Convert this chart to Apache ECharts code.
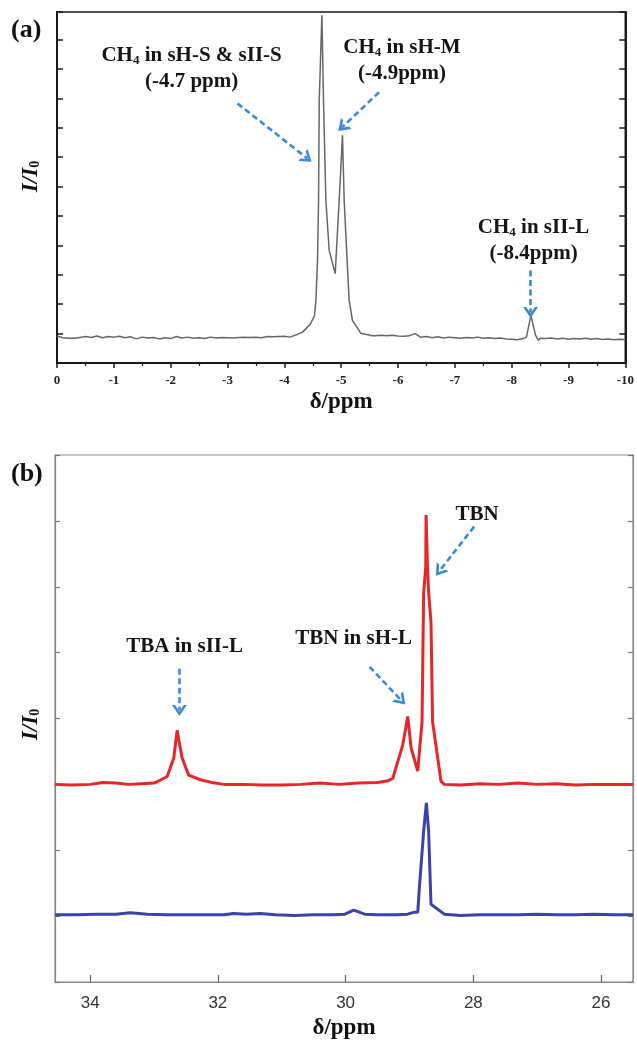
<!DOCTYPE html>
<html>
<head>
<meta charset="utf-8">
<script src="https://cdn.jsdelivr.net/npm/echarts@6/dist/echarts.min.js"></script>
<style>
  html, body { margin: 0; padding: 0; background: #ffffff; }
  #chart { width: 637px; height: 1045px; }
</style>
</head>
<body>
<div id="chart"></div>
<script>
// (a) CH4 region: chemical shift (ppm) and relative intensity I/I0
const shiftA = [
  0, -0.1, -0.2, -0.3, -0.4, -0.5, -0.6, -0.7, -0.8, -0.9,
  -1.0, -1.1, -1.2, -1.3, -1.4, -1.5, -1.6, -1.7, -1.8, -1.9,
  -2.0, -2.1, -2.2, -2.3, -2.4, -2.5, -2.6, -2.7, -2.8, -2.9,
  -3.0, -3.1, -3.2, -3.3, -3.4, -3.5, -3.6, -3.7, -3.8, -3.9,
  -4.0, -4.1, -4.2, -4.32, -4.45, -4.53, -4.556, -4.584, -4.602, -4.614,
  -4.661, -4.689, -4.731, -4.789, -4.895, -4.965, -5.023, -5.053, -5.14, -5.198,
  -5.346, -5.45, -5.55, -5.6, -5.7, -5.8, -5.9, -6.0, -6.1, -6.2,
  -6.3, -6.4, -6.5, -6.6, -6.7, -6.8, -6.9, -7.0, -7.1, -7.2,
  -7.3, -7.4, -7.5, -7.6, -7.7, -7.8, -7.9, -8.0, -8.1, -8.2,
  -8.26, -8.338, -8.42, -8.47, -8.5, -8.6, -8.7, -8.8, -8.9, -9.0,
  -9.1, -9.2, -9.3, -9.4, -9.5, -9.6, -9.7, -9.8, -9.9, -10.0
];
const intensityA = [
  0.92, 0.86, 0.84, 0.84, 0.87, 0.90, 0.87, 0.92, 0.86, 0.90,
  0.88, 0.91, 0.86, 0.89, 0.82, 0.88, 0.85, 0.87, 0.82, 0.86,
  0.83, 0.90, 0.85, 0.88, 0.84, 0.86, 0.83, 0.88, 0.85, 0.87,
  0.86, 0.85, 0.87, 0.88, 0.87, 0.88, 0.86, 0.90, 0.89, 0.90,
  0.91, 0.88, 0.95, 1.05, 1.30, 1.60, 2.13, 3.49, 5.53, 8.93,
  11.83, 8.93, 5.53, 3.83, 3.04, 5.53, 7.75, 5.53, 2.13, 1.45,
  1.01, 0.97, 0.93, 0.93, 0.94, 0.93, 0.94, 0.92, 0.91, 0.93,
  1.00, 0.88, 0.90, 0.86, 0.89, 0.85, 0.88, 0.86, 0.84, 0.87,
  0.85, 0.88, 0.84, 0.86, 0.83, 0.85, 0.82, 0.81, 0.79, 0.83,
  0.88, 1.62, 0.95, 0.77, 0.84, 0.83, 0.85, 0.82, 0.84, 0.81,
  0.83, 0.82, 0.84, 0.81, 0.83, 0.80, 0.82, 0.79, 0.81, 0.80
];

// (b) TBA/TBN region: red trace (upper) and blue trace (lower)
const shiftRed = [
  34.55, 34.3, 34.0, 33.8, 33.6, 33.4, 33.2, 33.0, 32.95, 32.794,
  32.69, 32.638, 32.56, 32.457, 32.274, 32.1, 31.9, 31.6, 31.3, 31.0,
  30.7, 30.4, 30.1, 29.8, 29.5, 29.35, 29.261, 29.105, 29.027, 28.974,
  28.871, 28.803, 28.778, 28.745, 28.74, 28.725, 28.718, 28.70, 28.663, 28.638,
  28.507, 28.455, 28.2, 27.9, 27.6, 27.3, 27.0, 26.7, 26.4, 26.1,
  25.8, 25.5
];
const intensityRed = [
  3.00, 2.99, 3.00, 3.03, 3.02, 3.00, 3.01, 3.02, 3.04, 3.12,
  3.40, 3.82, 3.40, 3.14, 3.07, 3.03, 3.00, 3.00, 2.99, 2.99,
  3.00, 3.02, 3.00, 3.02, 3.03, 3.05, 3.09, 3.60, 4.03, 3.55,
  3.20, 3.95, 5.91, 6.30, 7.09, 7.09, 6.30, 5.92, 5.46, 3.95,
  3.05, 3.00, 2.99, 3.01, 3.00, 3.02, 3.00, 3.01, 2.99, 3.00,
  3.00, 3.00
];
const shiftBlue = [
  34.55, 34.2, 33.9, 33.6, 33.37, 33.1, 32.8, 32.5, 32.2, 31.9,
  31.76, 31.55, 31.34, 31.1, 30.8, 30.5, 30.2, 30.01, 29.874, 29.70,
  29.5, 29.2, 29.03, 28.92, 28.87, 28.845, 28.778, 28.735, 28.725, 28.70,
  28.663, 28.455, 28.2, 27.9, 27.6, 27.3, 27.0, 26.7, 26.4, 26.1,
  25.8, 25.5
];
const intensityBlue = [
  1.02, 1.02, 1.03, 1.03, 1.05, 1.03, 1.02, 1.02, 1.02, 1.02,
  1.04, 1.03, 1.04, 1.02, 1.01, 1.02, 1.02, 1.03, 1.09, 1.03,
  1.02, 1.02, 1.03, 1.06, 1.06, 1.43, 2.29, 2.72, 2.72, 2.29,
  1.18, 1.03, 1.01, 1.02, 1.02, 1.02, 1.03, 1.02, 1.02, 1.03,
  1.02, 1.02
];
const ticksB = [26, 28, 30, 32, 34];

const zip = (xs, ys) => xs.map((x, i) => [x, ys[i]]);

const SERIF = '"Liberation Serif", "Times New Roman", serif';
const ARROW_BLUE = '#3a8ad4';
// open chevron head, pointing up before ECharts rotates it along the line
const CHEVRON = 'path://M0,10L5,0L10,10L7.9,10L5,4.2L2.1,10Z';

const annRich = {
  t: { fontFamily: SERIF, fontWeight: 'bold', fontSize: 21, color: '#151515', lineHeight: 26 },
  s: { fontFamily: SERIF, fontWeight: 'bold', fontSize: 13, color: '#151515', lineHeight: 26, verticalAlign: 'bottom', padding: [0, 0, 1, 0] },
  u: { fontFamily: SERIF, fontWeight: 'bold', fontSize: 21, color: '#151515', lineHeight: 26 }
};

function arrow(from, to) {
  return [{ coord: from }, { coord: to }];
}
function note(coord, text) {
  return {
    coord: coord,
    symbol: 'circle',
    symbolSize: 0,
    label: { show: true, position: 'inside', formatter: text, align: 'center', rich: annRich }
  };
}

const arrowLineStyle = { color: ARROW_BLUE, width: 2.6, type: [6, 3.5], opacity: 1 };

const nameRich = {
  i: { fontFamily: SERIF, fontWeight: 'bold', fontStyle: 'italic', fontSize: 23, color: '#111' },
  z: { fontFamily: SERIF, fontWeight: 'bold', fontSize: 14, color: '#111', padding: [8, 0, 0, 0] }
};

const chart = echarts.init(document.getElementById('chart'), null, { renderer: 'canvas' });

chart.setOption({
  animation: false,
  backgroundColor: '#ffffff',
  title: [
    { text: '(a)', left: 6, top: 12, textStyle: { fontFamily: SERIF, fontWeight: 'bold', fontSize: 26, color: '#111' } },
    { text: '(b)', left: 6, top: 456, textStyle: { fontFamily: SERIF, fontWeight: 'bold', fontSize: 26, color: '#111' } }
  ],
  grid: [
    { left: 57, right: 10, top: 12, height: 351, show: true, borderColor: '#1a1a1a', borderWidth: 1.6, backgroundColor: 'transparent' },
    { left: 55, right: 4, top: 455, height: 530, show: true, borderColor: '#8a8a8a', borderWidth: 1.2, backgroundColor: 'transparent' }
  ],
  xAxis: [
    {
      gridIndex: 0, type: 'value', min: -10, max: 0, interval: 1, inverse: true,
      name: 'δ/ppm', nameLocation: 'middle', nameGap: 28,
      nameTextStyle: { fontFamily: SERIF, fontWeight: 'bold', fontSize: 23, color: '#111' },
      axisLine: { show: true, lineStyle: { color: '#1a1a1a', width: 2 } },
      axisTick: { show: true, inside: false, length: 5, lineStyle: { color: '#1a1a1a', width: 1.5 } },
      minorTick: { show: true, splitNumber: 2, length: 3, lineStyle: { color: '#1a1a1a', width: 1.2 } },
      splitLine: { show: false },
      axisLabel: { margin: 11, fontFamily: SERIF, fontWeight: 'bold', fontSize: 13, color: '#222', showMinLabel: true, showMaxLabel: true }
    },
    {
      gridIndex: 1, type: 'value', min: 25.5, max: 34.55, inverse: true,
      name: 'δ/ppm', nameLocation: 'middle', nameGap: 35,
      nameTextStyle: { fontFamily: SERIF, fontWeight: 'bold', fontSize: 23, color: '#111' },
      axisLine: { show: true, lineStyle: { color: '#8a8a8a', width: 1.2 } },
      axisTick: { show: true, inside: true, length: 7, customValues: ticksB, lineStyle: { color: '#666', width: 1.2 } },
      splitLine: { show: false },
      axisLabel: { margin: 13, customValues: ticksB, fontFamily: '"Liberation Sans", Arial, sans-serif', fontSize: 17, color: '#333' }
    }
  ],
  yAxis: [
    {
      gridIndex: 0, type: 'value', min: 0, max: 11.94, interval: 1, position: 'left',
      name: '{i|I/I}{z|0}', nameLocation: 'middle', nameGap: 14, nameRotate: 90,
      nameTextStyle: { rich: nameRich, padding: [0, 0, 0, 22] },
      axisLine: { show: true, lineStyle: { color: '#1a1a1a', width: 2 } },
      axisTick: { show: true, inside: true, length: 6, lineStyle: { color: '#1a1a1a', width: 1.5 } },
      axisLabel: { show: false }, splitLine: { show: false }
    },
    {
      gridIndex: 0, type: 'value', min: 0, max: 11.94, interval: 1, position: 'right',
      axisLine: { show: true, lineStyle: { color: '#1a1a1a', width: 2 } },
      axisTick: { show: true, inside: true, length: 6, lineStyle: { color: '#1a1a1a', width: 1.5 } },
      axisLabel: { show: false }, splitLine: { show: false }
    },
    {
      gridIndex: 1, type: 'value', min: 0, max: 8, interval: 1, position: 'left',
      name: '{i|I/I}{z|0}', nameLocation: 'middle', nameGap: 12, nameRotate: 90,
      nameTextStyle: { rich: nameRich, padding: [0, 12, 0, 0] },
      axisLine: { show: true, lineStyle: { color: '#8a8a8a', width: 1.2 } },
      axisTick: { show: true, inside: true, length: 5, lineStyle: { color: '#777', width: 1.2 } },
      axisLabel: { show: false }, splitLine: { show: false }
    },
    {
      gridIndex: 1, type: 'value', min: 0, max: 8, interval: 1, position: 'right',
      axisLine: { show: true, lineStyle: { color: '#8a8a8a', width: 1.2 } },
      axisTick: { show: true, inside: true, length: 5, lineStyle: { color: '#777', width: 1.2 } },
      axisLabel: { show: false }, splitLine: { show: false }
    }
  ],
  series: [
    {
      name: 'CH4', type: 'line', xAxisIndex: 0, yAxisIndex: 0,
      data: zip(shiftA, intensityA), showSymbol: false, smooth: false,
      lineStyle: { color: '#6c6462', width: 1.5 },
      markLine: {
        silent: true, symbol: ['none', CHEVRON], symbolSize: [15, 11],
        label: { show: false }, lineStyle: arrowLineStyle,
        data: [
          arrow([-3.175, 8.83], [-4.404, 6.96]),
          arrow([-5.667, 9.21], [-5.018, 8.02]),
          arrow([-8.333, 3.15], [-8.333, 1.72])
        ]
      },
      markPoint: {
        silent: true,
        data: [
          note([-2.368, 10.02], '{t|CH}{s|4}{t| in sH-S & sII-S}\n{t|(-4.7 ppm)}'),
          note([-6.07, 10.30], '{t|CH}{s|4}{t| in sH-M}\n{t|(-4.9ppm)}'),
          note([-8.386, 4.17], '{t|CH}{s|4}{t| in sII-L}\n{t|(-8.4ppm)}')
        ]
      }
    },
    {
      name: 'TBA + TBN', type: 'line', xAxisIndex: 1, yAxisIndex: 2,
      data: zip(shiftRed, intensityRed), showSymbol: false, smooth: false,
      lineStyle: { color: '#e8262a', width: 3 },
      markLine: {
        silent: true, symbol: ['none', CHEVRON], symbolSize: [15, 11],
        label: { show: false }, lineStyle: arrowLineStyle,
        data: [
          arrow([32.602, 4.755], [32.602, 4.12]),
          arrow([29.624, 4.785], [29.125, 4.272]),
          arrow([27.988, 6.913], [28.534, 6.234])
        ]
      },
      markPoint: {
        silent: true,
        data: [
          note([32.52, 5.087], '{u|TBA in sII-L}'),
          note([29.874, 5.208], '{u|TBN in sH-L}'),
          note([27.94, 7.094], '{u|TBN}')
        ]
      }
    },
    {
      name: 'TBN', type: 'line', xAxisIndex: 1, yAxisIndex: 2,
      data: zip(shiftBlue, intensityBlue), showSymbol: false, smooth: false,
      lineStyle: { color: '#3944a6', width: 3 }
    }
  ]
});
</script>
</body>
</html>
